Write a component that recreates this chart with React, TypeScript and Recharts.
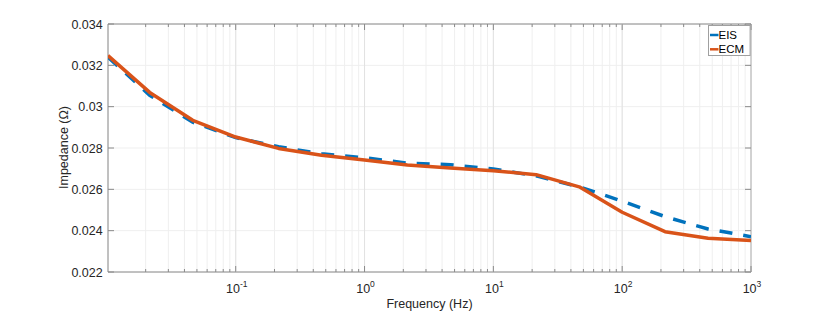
import React from "react";
import {
  CartesianGrid,
  Line,
  LineChart,
  ReferenceArea,
  ReferenceLine,
  XAxis,
  YAxis,
} from "recharts";

// frequency (Hz), ~3 points per decade
const freqs = [
  0.0102, 0.0215, 0.0464, 0.1, 0.215, 0.464, 1, 2.15, 4.64, 10, 21.5, 46.4, 100,
  215, 464, 1000,
];
const eisVals = [
  0.0324, 0.03055, 0.02925, 0.0285, 0.02806, 0.02772, 0.02753, 0.02727, 0.02719,
  0.02698, 0.02665, 0.02612, 0.02543, 0.02468, 0.02408, 0.02371,
];
const ecmVals = [
  0.03247, 0.03069, 0.02934, 0.02853, 0.02798, 0.02765, 0.02742, 0.02718,
  0.02703, 0.0269, 0.02671, 0.02612, 0.02489, 0.02395, 0.02363, 0.02353,
];

const majorTicks = [0.1, 1, 10, 100, 1000];
const minorTicks = [
  0.02, 0.03, 0.04, 0.05, 0.06, 0.07, 0.08, 0.09,
  0.2, 0.3, 0.4, 0.5, 0.6, 0.7, 0.8, 0.9,
  2, 3, 4, 5, 6, 7, 8, 9,
  20, 30, 40, 50, 60, 70, 80, 90,
  200, 300, 400, 500, 600, 700, 800, 900,
];
const yTicks = [0.022, 0.024, 0.026, 0.028, 0.03, 0.032, 0.034];
const exponents: Record<number, string> = { 0.1: "-1", 1: "0", 10: "1", 100: "2", 1000: "3" };

const data = freqs.map((f, i) => ({ f, eis: eisVals[i], ecm: ecmVals[i] }));

const FONT = "'Liberation Sans', Arial, Helvetica, sans-serif";
const TXT = "#262626";
const AXIS = "#8a8a8a";
const BLUE = "#0072BD";
const ORANGE = "#D95319";

// plot box in svg coords
const L = 100;
const R = 743;
const T = 16;
const B = 264;

const XTick = (props: any) => {
  const { x, payload } = props;
  const v = payload.value;
  const major = exponents[v] !== undefined;
  const len = major ? 6 : 3;
  return (
    <g>
      <line x1={x} x2={x} y1={B} y2={B - len} stroke={AXIS} />
      <line x1={x} x2={x} y1={T} y2={T + len} stroke={AXIS} />
      {major && (
        <text x={x + 1} y={285.3} textAnchor="middle" fontFamily={FONT} fontSize={12.5} fill={TXT}>
          <tspan>10</tspan>
          <tspan fontSize={8.5} dy={-6.6}>{exponents[v]}</tspan>
        </text>
      )}
    </g>
  );
};

const YTick = (props: any) => {
  const { y, payload } = props;
  const label = String(payload.value);
  return (
    <g>
      <line x1={L} x2={L + 6} y1={y} y2={y} stroke={AXIS} />
      <line x1={R} x2={R - 6} y1={y} y2={y} stroke={AXIS} />
      <text x={94.7} y={y} dy="0.36em" textAnchor="end" fontFamily={FONT} fontSize={12.5} fill={TXT}>
        {label}
      </text>
    </g>
  );
};

const LegendBox = () => (
  <svg
    width={43}
    height={31}
    style={{ display: "block", position: "absolute", top: 17, left: 699.5 }}
  >
    <rect x={0.5} y={0.5} width={41.6} height={30} fill="#fff" stroke="#a0a0a0" />
    <line x1={2} x2={10.5} y1={10} y2={10} stroke={BLUE} strokeWidth={2.5} />
    <text x={10.5} y={14} fontFamily={FONT} fontSize={11.5} fill="#000">EIS</text>
    <line x1={2} x2={10.5} y1={24.3} y2={24.3} stroke={ORANGE} strokeWidth={2.5} />
    <text x={10.5} y={28.3} fontFamily={FONT} fontSize={11.5} fill="#000">ECM</text>
  </svg>
);

export default function App() {
  return (
    <div style={{ position: "relative", width: 814, height: 305 }}>
      <LineChart
        width={814}
        height={305}
        data={data}
        margin={{ top: T, right: 814 - R, bottom: 0, left: 0 }}
      >
        <CartesianGrid stroke="#efefef" fill="#fff" />
        {majorTicks.map((t) => (
          <ReferenceLine key={t} x={t} stroke="#e2e2e2" />
        ))}
        <XAxis
          dataKey="f"
          type="number"
          scale="log"
          domain={[0.0102, 1000]}
          allowDataOverflow
          ticks={[...majorTicks, ...minorTicks].sort((a, b) => a - b)}
          interval={0}
          tick={<XTick />}
          tickLine={false}
          axisLine={false}
          height={305 - B}
          label={{
            content: () => (
              <text x={(L + R) / 2} y={300.3} textAnchor="middle" fontFamily={FONT} fontSize={12.5} fill={TXT}>
                Frequency (Hz)
              </text>
            ),
          }}
        />
        <YAxis
          type="number"
          domain={[0.022, 0.034]}
          allowDataOverflow
          ticks={yTicks}
          interval={0}
          tick={<YTick />}
          tickLine={false}
          axisLine={false}
          width={L}
          label={{
            content: () => (
              <text
                x={60}
                y={139.5}
                transform={`rotate(-90 60 139.5)`}
                textAnchor="middle"
                fontFamily={FONT}
                fontSize={12.5}
                fill={TXT}
              >
                Impedance (Ω)
              </text>
            ),
          }}
        />
        <ReferenceArea x1={0.0102} x2={1000} y1={0.022} y2={0.034} fill="none" stroke={AXIS} strokeOpacity={1} />
        <Line
          dataKey="eis"
          stroke={BLUE}
          strokeWidth={3.5}
          strokeDasharray="13 11"
          dot={false}
          isAnimationActive={false}
          type="linear"
        />
        <Line
          dataKey="ecm"
          stroke={ORANGE}
          strokeWidth={3.5}
          strokeLinejoin="round"
          dot={false}
          isAnimationActive={false}
          type="linear"
        />
      </LineChart>
      <LegendBox />
    </div>
  );
}
